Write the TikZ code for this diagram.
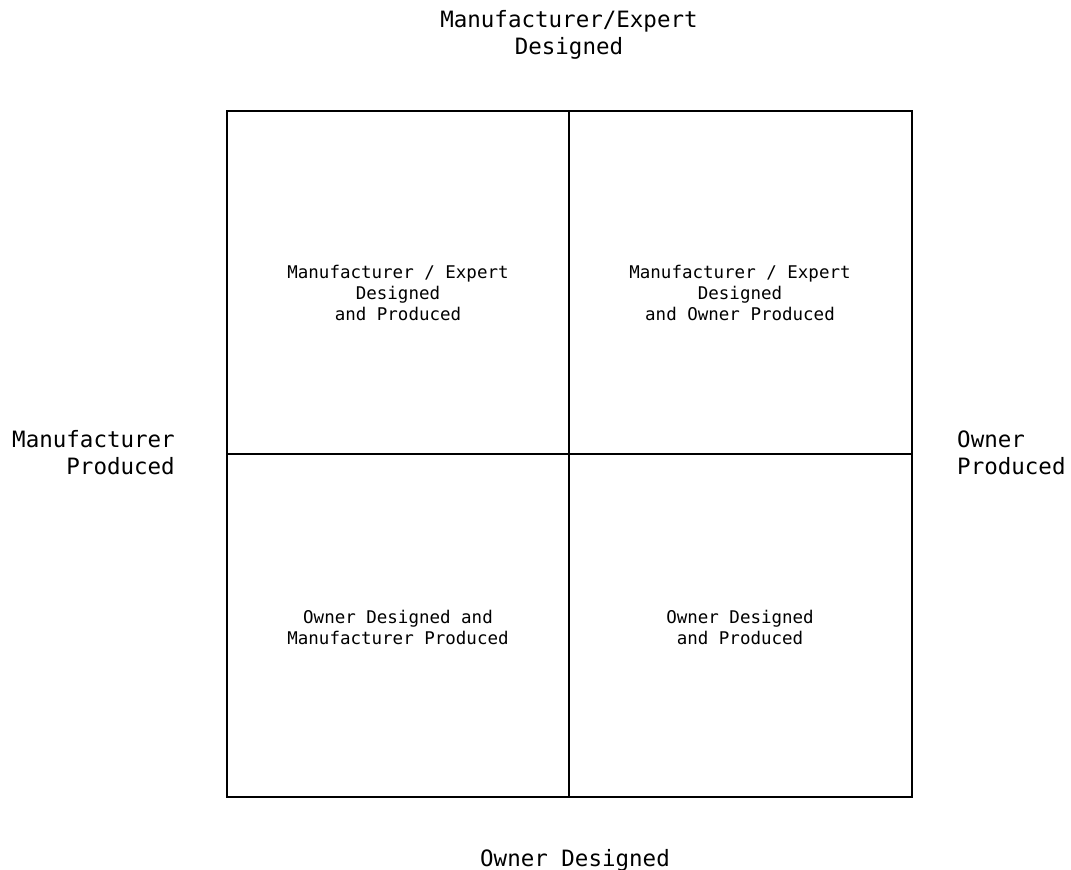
\documentclass[tikz,border=0pt]{standalone}
\usepackage{fontspec}
\setmonofont{DejaVu Sans Mono}
\begin{document}
\begin{tikzpicture}[x=1pt,y=1pt,
  outerlbl/.style={font=\ttfamily\fontsize{22.5}{27}\selectfont, inner sep=0pt},
  celltxt/.style={font=\ttfamily\fontsize{17.5}{21}\selectfont, align=center, inner sep=0pt},
  gridline/.style={line width=1.3pt, black}]
  \useasboundingbox (0,0) rectangle (1071,870);
  % quadrant frame
  \coordinate (tl) at (227,759);
  \coordinate (br) at (912,73);
  \coordinate (tm) at (569,759);
  \coordinate (bm) at (569,73);
  \coordinate (ml) at (227,416);
  \coordinate (mr) at (912,416);
  \draw[gridline] (tl) rectangle (br);
  \draw[gridline] (tm) -- (bm);
  \draw[gridline] (ml) -- (mr);
  % axis labels
  \node[outerlbl, align=center] (top) at (569,835) {Manufacturer/Expert\\Designed};
  \node[outerlbl] (bottom) at (575,10) {Owner Designed};
  \node[outerlbl, align=right, anchor=east] (left) at (175,417) {Manufacturer\\Produced};
  \node[outerlbl, align=left, anchor=west] (right) at (957,417) {Owner\\Produced};
  % quadrant texts
  \node[celltxt] (q1) at (398,577) {Manufacturer / Expert\\Designed\\and Produced};
  \node[celltxt] (q2) at (740,577) {Manufacturer / Expert\\Designed\\and Owner Produced};
  \node[celltxt] (q3) at (398,243) {Owner Designed and\\Manufacturer Produced};
  \node[celltxt] (q4) at (740,243) {Owner Designed\\and Produced};
\end{tikzpicture}
\end{document}
